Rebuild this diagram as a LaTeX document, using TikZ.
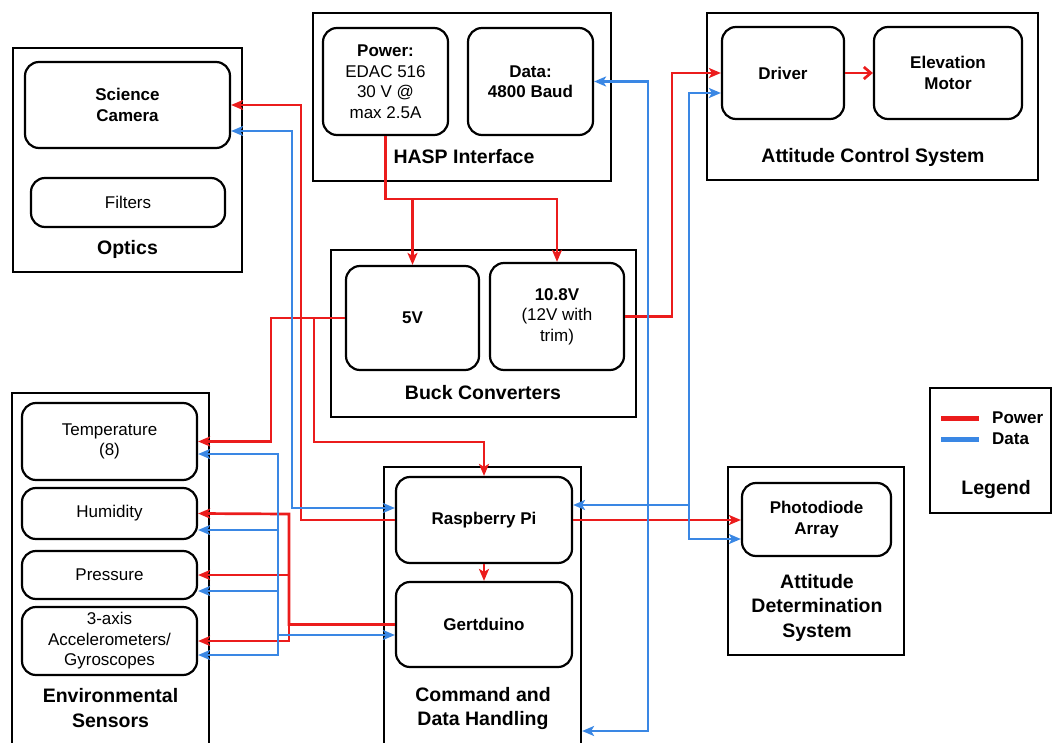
\documentclass[tikz,border=0pt]{standalone}
\usepackage{fontspec}
\setmainfont{Liberation Sans}
\usetikzlibrary{arrows.meta}

\definecolor{pwrred}{RGB}{235,28,28}
\definecolor{datblue}{RGB}{58,135,228}

\tikzset{
  grp/.style={draw, line width=2.2pt, inner sep=0pt},
  blk/.style={draw, rounded corners=14pt, line width=2.2pt, inner sep=2pt, align=center,
    font=\fontsize{17}{20.5}\selectfont\bfseries},
  sens/.style={blk, font=\fontsize{17}{20.5}\selectfont},
  ttl/.style={align=center, font=\fontsize{19.5}{24.5}\selectfont\bfseries},
  pwr/.style={draw=pwrred, line width=2.7pt},
  dat/.style={draw=datblue, line width=2.7pt},
  >={Stealth[length=12pt, width=10pt, inset=3pt]}
}

\begin{document}
\begin{tikzpicture}[x=1pt, y=-1pt]
    \useasboundingbox (0,0) rectangle (1054,743);

    % --- Optics ---
    \node[grp, minimum width=229pt, minimum height=224pt] (optics) at (127.5,160) {};
    \node[blk, minimum width=205pt, minimum height=86pt] (sci) at (127.5,105) {Science\\Camera};
    \node[sens, minimum width=194pt, minimum height=49pt] (filt) at (128,202.5) {Filters};
    \node[ttl] (opticsttl) at (127.5,249) {Optics};

    % --- HASP Interface ---
    \node[grp, minimum width=298pt, minimum height=168pt] (hasp) at (462,97) {};
    \node[blk, minimum width=125pt, minimum height=107pt] (pwrin) at (385.5,81.5)
      {Power:\\\mdseries EDAC 516\\\mdseries 30 V @\\\mdseries max 2.5A};
    \node[blk, minimum width=125pt, minimum height=107pt] (datin) at (530.5,81.5) {Data:\\4800 Baud};
    \node[ttl] (haspttl) at (464,157) {HASP Interface};

    % --- Attitude Control System ---
    \node[grp, minimum width=331pt, minimum height=167pt] (acs) at (872.5,96.5) {};
    \node[blk, minimum width=122pt, minimum height=92pt] (drv) at (783,73) {Driver};
    \node[blk, minimum width=148pt, minimum height=92pt] (motor) at (948,73) {Elevation\\Motor};
    \node[ttl] (acsttl) at (873,157) {Attitude Control System};

    % --- Buck Converters ---
    \node[grp, minimum width=305pt, minimum height=167pt] (buck) at (483.5,333.5) {};
    \node[blk, minimum width=133pt, minimum height=104pt] (v5) at (412.5,318) {5V};
    \node[blk, minimum width=134pt, minimum height=107pt] (v108) at (557,316.5)
      {10.8V\\\mdseries (12V with\\\mdseries trim)};
    \node[ttl] (buckttl) at (483,393) {Buck Converters};

    % --- Environmental Sensors ---
    \node[grp, minimum width=197pt, minimum height=357pt] (env) at (110.5,571.5) {};
    \node[sens, minimum width=175pt, minimum height=77pt] (temp) at (109.5,441.5) {Temperature\\(8)};
    \node[sens, minimum width=175pt, minimum height=51pt] (hum) at (109.5,513.5) {Humidity};
    \node[sens, minimum width=175pt, minimum height=48pt] (pres) at (109.5,575) {Pressure};
    \node[sens, minimum width=175pt, minimum height=68pt] (acc) at (109.5,641)
      {3-axis\\Accelerometers/\\Gyroscopes};
    \node[ttl] (envttl) at (110.5,708) {Environmental\\Sensors};

    % --- Command and Data Handling ---
    \node[grp, minimum width=197pt, minimum height=283pt] (cdh) at (482.5,608.5) {};
    \node[blk, minimum width=176pt, minimum height=86pt] (rpi) at (484,520) {Raspberry Pi};
    \node[blk, minimum width=176pt, minimum height=85pt] (gert) at (484,624.5) {Gertduino};
    \node[ttl] (cdhttl) at (483,708.5) {Command and\\Data Handling};

    % --- Attitude Determination System ---
    \node[grp, minimum width=176pt, minimum height=188pt] (ads) at (816,561) {};
    \node[blk, minimum width=149pt, minimum height=73pt] (pd) at (816.5,519.5) {Photodiode\\Array};
    \node[ttl] (adsttl) at (817,607.5) {Attitude\\Determination\\System};

    % --- Legend ---
    \node[grp, minimum width=121pt, minimum height=125pt] (legend) at (990.5,450.5) {};
    \node[right, inner sep=0pt, font=\fontsize{17}{20}\selectfont\bfseries] (lgpow) at (992,418) {Power};
    \node[right, inner sep=0pt, font=\fontsize{17}{20}\selectfont\bfseries] (lgdat) at (992,439) {Data};
    \draw[pwr, line width=5pt] ([xshift=-51pt]lgpow.west) -- ([xshift=-13pt]lgpow.west);
    \draw[dat, line width=5pt] ([xshift=-51pt]lgdat.west) -- ([xshift=-13pt]lgdat.west);
    \node[ttl] (legendttl) at (996,489) {Legend};

    % --- Power lines ---
    \draw[pwr, ->] (pwrin.south) |- (v108.north |- 0,199) -- (v108.north);
    \draw[pwr, ->] (v5.north |- 0,199) -- (v5.north);
    \draw[pwr, ->] (v5.west) -- (271,318) |- (temp.east);
    \draw[pwr, ->] (rpi.west) -| (301,105) -- (sci.east);
    \draw[pwr, ->] (314,318) |- (rpi.north |- 0,442) -- (rpi.north);
    \draw[pwr, ->] (gert.west) -| (289,514) -- (hum.east);
    \draw[pwr, ->] (289,575) -- (pres.east);
    \draw[pwr, ->] (gert.west) -| (289,641) -- (acc.east);
    \draw[pwr, ->] (v108.east) -| (672,73) -- (drv.west);
    \draw[pwr, -{Straight Barb[length=7pt, width=12pt]}] (drv.east) -- (motor.west);
    \draw[pwr, ->] (rpi.east) -- (rpi.east -| pd.west);
    \draw[pwr, ->] (rpi.south) -- (gert.north);

    % --- Data lines ---
    \draw[dat, <->] ([yshift=-26pt]sci.east) -| (292,508) -- ([yshift=12pt]rpi.west);
    \draw[dat, <->] ([yshift=-12.5pt]temp.east) -| (278,655) -- ([yshift=-14pt]acc.east);
    \draw[dat, ->] (278,530) -- ([yshift=-16.5pt]hum.east);
    \draw[dat, ->] (278,591) -- ([yshift=-16pt]pres.east);
    \draw[dat, ->] (278,635) -- ([yshift=-10.5pt]gert.west);
    \draw[dat, <->] (datin.east) -| (648,731) -- (cdh.east |- 0,731);
    \draw[dat, <->] ([yshift=-20pt]drv.west) -| (689,539) -- ([yshift=-19.5pt]pd.west);
    \draw[dat, ->] (689,505) -- ([yshift=15pt]rpi.east);
\end{tikzpicture}
\end{document}
